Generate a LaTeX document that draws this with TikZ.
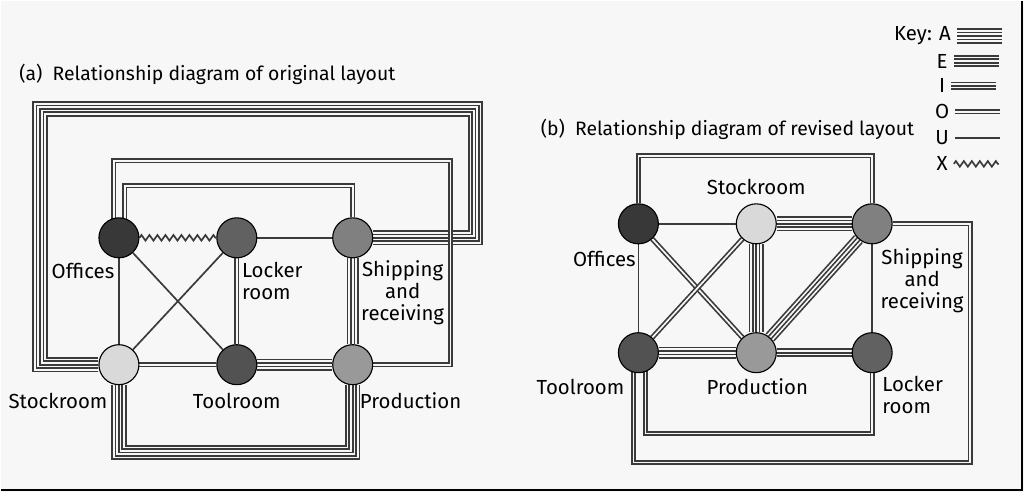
\documentclass[tikz,border=0pt]{standalone}
\usepackage{fontspec}
\setmainfont{Fira Sans}
\usetikzlibrary{calc,decorations.pathmorphing}
\pgfdeclarelayer{edges}
\pgfsetlayers{edges,main}
\definecolor{bg}{HTML}{F7F7F7}
\definecolor{lc}{HTML}{3A3A3A}

\begin{document}
\begin{tikzpicture}[x=0.025cm,y=-0.025cm,
	dept/.style={circle, draw=black, thick, minimum size=1cm, inner sep=0},
	lab/.style={font=\fontsize{14.5}{15.8}\selectfont, align=center, inner sep=0},
	ttl/.style={font=\fontsize{13.8}{15}\selectfont, inner sep=0, anchor=west},
	rU/.style={draw=lc, line width=1.2pt},
	rO/.style={draw=lc, line width=3.6pt, line join=miter, postaction={draw=bg, line width=1.2pt}},
	rI/.style={draw=lc, line width=6pt, line join=miter, postaction={draw=bg, line width=3.6pt, postaction={draw=lc, line width=1.2pt}}},
	rE/.style={draw=lc, line width=8.4pt, line join=miter, postaction={draw=bg, line width=6pt, postaction={draw=lc, line width=3.6pt, postaction={draw=bg, line width=1.2pt}}}},
	rA/.style={draw=lc, line width=10.8pt, line join=miter, postaction={draw=bg, line width=8.4pt, postaction={draw=lc, line width=6pt, postaction={draw=bg, line width=3.6pt, postaction={draw=lc, line width=1.2pt}}}}},
	rX/.style={draw=lc, line width=1.2pt, decorate, decoration={zigzag, segment length=0.2cm, amplitude=0.07cm}}]

	\begin{pgfonlayer}{edges}
		\fill[bg] (0,0) rectangle (1024,491);
		\draw[black, line width=1.5pt] (1022,0) -- (1022,489) -- (0,489);
	\end{pgfonlayer}

	%titles
	\node[ttl] (ttla) at (18,73) {(a)\ \ Relationship diagram of original layout};
	\node[ttl] (ttlb) at (540,128) {(b)\ \ Relationship diagram of revised layout};

	%key
	\node[lab, anchor=east] (kA) at (951,35) {Key: A};
	\node[lab] (kE) at (942,60) {E};
	\node[lab] (kI) at (942,85) {I};
	\node[lab] (kO) at (942,111) {O};
	\node[lab] (kU) at (942,137) {U};
	\node[lab] (kX) at (942,163) {X};
	\foreach \k in {A,E,I,O,U} {
		\draw[r\k] ([xshift=0.15cm]k\k.east) -- ++(45,0);
	}
	\draw[rX] ([xshift=0.15cm]kX.east) -- ++(45,0);

	%original layout
	\node[dept, fill=black!78] (loff) at (118,237) {};
	\node[dept, fill=black!62] (lloc) at (236,237) {};
	\node[dept, fill=black!50] (lsh) at (352,237) {};
	\node[dept, fill=black!15] (lst) at (118,364) {};
	\node[dept, fill=black!68] (lto) at (236,364) {};
	\node[dept, fill=black!40] (lpr) at (352,364) {};

	\node[lab] (loffl) at (82,270) {Offices};
	\node[lab, align=left, anchor=north west] (llocl) at (241,261) {Locker\\room};
	\node[lab] (lshl) at (402,292) {Shipping\\and\\receiving};
	\node[lab] (lstl) at (57,400) {Stockroom};
	\node[lab] (ltol) at (236,400) {Toolroom};
	\node[lab] (lprl) at (410,400) {Production};

	\begin{pgfonlayer}{edges}
		\draw[rA] (lst) -- ++(-79,0) -- ++(0,-256) -| ($(lsh)+(123,0)$) -- (lsh);
		\draw[rO] ($(loff)+(-5,0)$) -- ++(0,-77) -| ($(lpr)+(98,0)$) -- (lpr);
		\draw[rO] ($(loff)+(6,0)$) -- ++(0,-52) -| (lsh);
		\draw[rA] (lst) -- ++(0,88) -| (lpr);
		\draw[rX] (loff.east) -- (lloc.west);
		\draw[rU] (lloc) -- (lsh);
		\draw[rU] (loff) -- (lst);
		\draw[rU] (loff) -- (lto);
		\draw[rU] (lloc) -- (lst);
		\draw[rO] (lloc) -- (lto);
		\draw[rO] (lst) -- (lto);
		\draw[rE] (lto) -- (lpr);
		\draw[rE] (lsh) -- (lpr);
	\end{pgfonlayer}

	%revised layout
	\node[dept, fill=black!78] (roff) at (638,223) {};
	\node[dept, fill=black!15] (rst) at (756,223) {};
	\node[dept, fill=black!50] (rsh) at (872,223) {};
	\node[dept, fill=black!68] (rto) at (638,352) {};
	\node[dept, fill=black!40] (rpr) at (756,352) {};
	\node[dept, fill=black!62] (rlo) at (872,352) {};

	\node[lab] (rstl) at (756,186) {Stockroom};
	\node[lab] (roffl) at (604,258) {Offices};
	\node[lab] (rshl) at (922,280) {Shipping\\and\\receiving};
	\node[lab] (rtol) at (580,386) {Toolroom};
	\node[lab] (rprl) at (757,386) {Production};
	\node[lab, align=left, anchor=north west] (rlol) at (882,375) {Locker\\room};

	\begin{pgfonlayer}{edges}
		\draw[rO] (roff) -- ++(0,-68) -| (rsh);
		\draw[rO] ($(rto)+(7,0)$) -- ++(0,81) -| (rlo);
		\draw[rO] (rsh) -- ++(98,0) -- ++(0,239) -| ($(rto)+(-5,0)$);
		\draw[rU] (roff) -- (rst);
		\draw[rA] (rst) -- (rsh);
		\draw[rU] (roff) -- (rto);
		\draw[rO] (roff) -- (rpr);
		\draw[rO] (rst) -- (rto);
		\draw[rA] (rst) -- (rpr);
		\draw[rE] (rsh) -- (rpr);
		\draw[rU] (rsh) -- (rlo);
		\draw[rE] (rto) -- (rpr);
		\draw[rI] (rpr) -- (rlo);
	\end{pgfonlayer}
\end{tikzpicture}
\end{document}
